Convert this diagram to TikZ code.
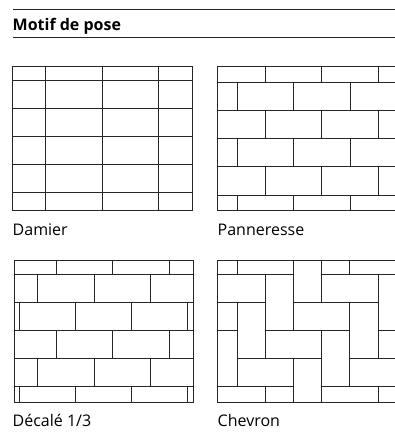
\documentclass[tikz,border=0pt]{standalone}
\usepackage{fontspec}
\setmainfont{Open Sans}

\begin{document}
\begin{tikzpicture}[x=1pt,y=-1pt,
  joint/.style={line width=0.9pt,draw=black!85},
  rule/.style={line width=1pt,draw=black!85},
  lbl/.style={anchor=base west,inner sep=0pt,font=\fontsize{16}{19}\selectfont}]
\useasboundingbox (0,0) rectangle (395,445);
% titre
\draw[rule] (13,9.3) -- (395,9.3);
\node[lbl,font=\fontsize{16}{19}\selectfont\bfseries] (titre) at (12.5,30.7) {Motif de pose};
\draw[rule] (13,37.7) -- (395,37.7);
% damier
\foreach \x in {45.7,102,158.3} \draw[joint] (\x,66.7) -- (\x,210.7);
\foreach \y in {80,108.3,136.7,164.3,192.7} \draw[joint] (12.7,\y) -- (192.3,\y);
\draw[joint] (12.7,66.7) rectangle (192.3,210.7);
\node[lbl] (damier) at (12.5,235) {Damier};
% panneresse
\foreach \y in {82.3,110.7,138.7,166.7,195} \draw[joint] (217.3,\y) -- (395,\y);
\foreach \ya/\yb/\s in {66/82.3/0,82.3/110.7/1,110.7/138.7/0,138.7/166.7/1,166.7/195/0,195/210/1}
  \foreach \n in {0,1,2} \draw[joint] ({265.7-28.1*\s+56.2*\n},\ya) -- ({265.7-28.1*\s+56.2*\n},\yb);
\draw[joint] (395,66) -- (217.3,66) -- (217.3,210) -- (395,210);
\node[lbl] (panneresse) at (217.5,235) {Panneresse};
% decale 1/3
\begin{scope}
\clip (14.3,260) rectangle (193.3,402.7);
\foreach \y in {274.3,302.7,330.7,358.7,386.7} \draw[joint] (14.3,\y) -- (193.3,\y);
\foreach \ya/\yb/\s in {260/274.3/0,274.3/302.7/1,302.7/330.7/2,330.7/358.7/0,358.7/386.7/1,386.7/402.7/2}
  \foreach \n in {0,...,3} \draw[joint] ({56.7-18.8*\s+56.2*\n},\ya) -- ({56.7-18.8*\s+56.2*\n},\yb);
\end{scope}
\draw[joint] (14.3,260) rectangle (193.3,402.7);
\node[lbl] (decale) at (12.5,426.7) {Décalé 1/3};
% chevron
\begin{scope}
\clip (217.3,260) rectangle (395,402.7);
\begin{scope}[shift={(237.3,274.3)},x=28.15pt,y=-28.15pt]
\foreach \c in {-3,...,7} \foreach \r in {-3,...,6} {
  \pgfmathtruncatemacro\k{mod(\c+\r+40,4)}
  \ifnum\k=3 \draw[joint] (\c,\r) rectangle ++(2,1); \fi
  \ifnum\k=1 \draw[joint] (\c,\r) rectangle ++(1,2); \fi
}
\end{scope}
\end{scope}
\draw[joint] (395,260) -- (217.3,260) -- (217.3,402.7) -- (395,402.7);
\node[lbl] (chevron) at (217.5,426.7) {Chevron};
\end{tikzpicture}
\end{document}
